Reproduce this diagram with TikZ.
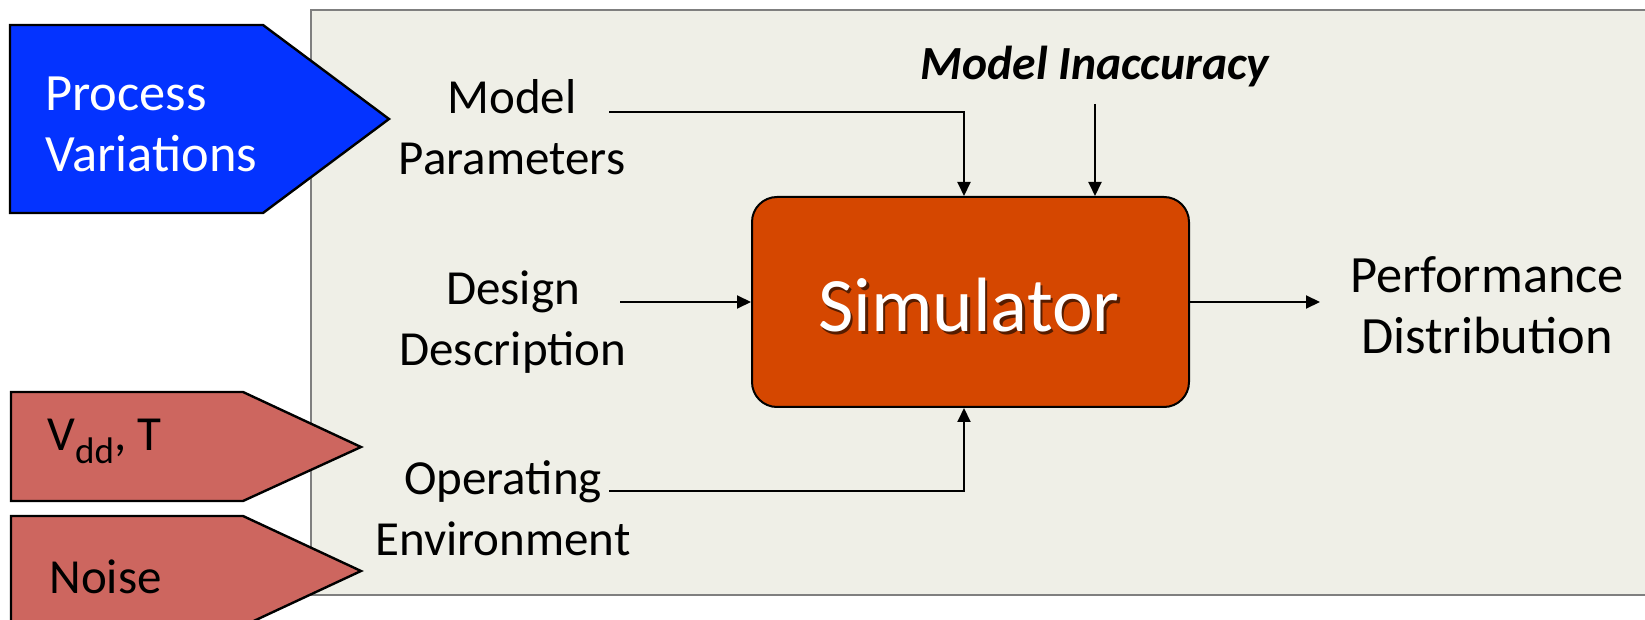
\documentclass[tikz,border=0pt]{standalone}
\usepackage{fontspec}
\setmainfont{Carlito}
\usetikzlibrary{arrows.meta}
\usetikzlibrary{calc}
\usepackage{xcolor}
\definecolor{panel}{HTML}{EFEFE7}
\definecolor{panelline}{HTML}{7F7F7F}
\definecolor{procblue}{HTML}{0433FF}
\definecolor{envred}{HTML}{CD665F}
\definecolor{simorange}{HTML}{D54700}
\newcommand{\lbl}{\fontsize{24.5}{30.5}\selectfont}
\newcommand{\biglbl}{\fontsize{26.2}{30.5}\selectfont}
\newcommand{\simfont}{\fontsize{38.5}{40}\selectfont}
\newcommand{\lowsub}[1]{\raisebox{-6.5pt}{\fontsize{18.5}{18.5}\selectfont #1}}

\begin{document}
\begin{tikzpicture}[x=0.5pt,y=-0.5pt,
    flow/.style={line width=1pt,-{Triangle[length=7pt,width=6.5pt]}},
    tag/.style={draw=black,line width=1.2pt,line join=miter},
    txt/.style={inner sep=0pt,font=\lbl}]
  \useasboundingbox (0,0) rectangle (1645,620);

  % background panel
  \fill[panel] (311,10) rectangle (1700,595);
  \draw[panelline,line width=1.2pt] (1700,10) -- (311,10) -- (311,595) -- (1700,595);

  % input tags
  \filldraw[tag,fill=procblue] (10,25) -- (263,25) -- (389,119) -- (263,213) -- (10,213) -- cycle;
  \filldraw[tag,fill=envred] (11,392) -- (243,392) -- (361,447) -- (243,501) -- (11,501) -- cycle;
  \filldraw[tag,fill=envred] (11,516) -- (243,516) -- (361,571) -- (243,626) -- (11,626) -- cycle;

  \node[txt,white,anchor=base west,align=left,font=\biglbl](pv) at (45,172) {Process\\Variations};
  \node[txt,anchor=base west](vt) at (47,451) {V\lowsub{dd}, T};
  \node[txt,anchor=base west](ns) at (49,593) {Noise};

  % labels (base = last line)
  \node[txt,anchor=base,align=center](mp) at (512,175) {Model\\Parameters};
  \node[txt,anchor=base,align=center](dd) at (513,365) {Design\\Description};
  \node[txt,anchor=base,align=center](oe) at (503,555) {Operating\\Environment};
  \node[txt,anchor=base,align=center,font=\biglbl](pd) at (1487,354) {Performance\\Distribution};
  \node[txt,anchor=base,font=\fontsize{23.8}{28}\selectfont](mi) at (1095,80) {\bfseries\itshape Model Inaccuracy};

  % simulator block
  \node[draw=black,line width=1pt,fill=simorange,rounded corners=12.5pt,
        minimum width=218.5pt,minimum height=105pt,inner sep=0pt](sim) at (970.5,302) {};
  \node[inner sep=0pt,anchor=base,font=\simfont,text=black,opacity=0.6] at (971.5,335) {Simulator};
  \node[inner sep=0pt,anchor=base,font=\simfont,text=white](simtxt) at (969,332) {Simulator};

  \coordinate (mpout) at (609,112);
  \coordinate (ddout) at (620,302);
  \coordinate (oeout) at (609,491);
  \coordinate (pdin) at (1320,302);

  \draw[flow] (mpout) -| ([xshift=-3.25pt]sim.north);
  \draw[flow] ([yshift=-8pt]mi.south) -- (mi.south |- sim.north);
  \draw[flow] (ddout) -- (sim.west);
  \draw[flow] (oeout) -| ([xshift=-3.25pt]sim.south);
  \draw[flow] (sim.east) -- (pdin);

\end{tikzpicture}
\end{document}
